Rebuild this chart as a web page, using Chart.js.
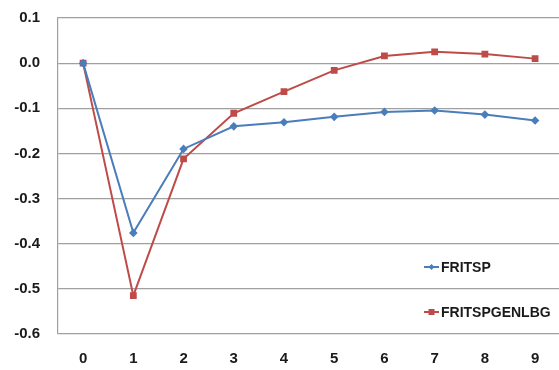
<!DOCTYPE html>
<html>
<head>
<meta charset="utf-8">
<script src="https://cdn.jsdelivr.net/npm/chart.js@4/dist/chart.umd.min.js"></script>
<style>
  html, body { margin: 0; padding: 0; background: #fff; overflow: hidden; }
  #wrap { width: 565px; height: 370px; }
</style>
</head>
<body>
<div id="wrap"><canvas id="chart"></canvas></div>
<script>
const categories = ['0', '1', '2', '3', '4', '5', '6', '7', '8', '9'];
const fritsp = [0.0, -0.376, -0.19, -0.14, -0.131, -0.119, -0.108, -0.105, -0.114, -0.127];
const fritspGenlbg = [0.0, -0.515, -0.212, -0.111, -0.063, -0.016, 0.016, 0.025, 0.02, 0.01];
const seriesNames = ['FRITSP', 'FRITSPGENLBG'];

const BLUE = '#4a7ebb';
const RED = '#be4b48';
const FONT = '"Liberation Sans", Arial, sans-serif';

// legend drawn inside the plot, lower right
const innerLegend = {
  id: 'innerLegend',
  afterDraw(chart) {
    const ctx = chart.ctx;
    const area = chart.chartArea;
    const rows = [area.bottom - 67, area.bottom - 22];
    const x0 = 424;
    ctx.save();
    chart.data.datasets.forEach((ds, i) => {
      const y = rows[i];
      ctx.strokeStyle = ds.borderColor;
      ctx.lineWidth = 2;
      ctx.beginPath();
      ctx.moveTo(x0, y);
      ctx.lineTo(x0 + 15, y);
      ctx.stroke();
      ctx.fillStyle = ds.backgroundColor;
      if (ds.pointStyle === 'rect') {
        ctx.fillRect(x0 + 4.5, y - 3, 6, 6);
      } else {
        ctx.beginPath();
        ctx.moveTo(x0 + 7.5, y - 3);
        ctx.lineTo(x0 + 10.5, y);
        ctx.lineTo(x0 + 7.5, y + 3);
        ctx.lineTo(x0 + 4.5, y);
        ctx.closePath();
        ctx.fill();
      }
      ctx.fillStyle = '#1a1a1a';
      ctx.font = 'bold 14px ' + FONT;
      ctx.textBaseline = 'middle';
      ctx.textAlign = 'left';
      ctx.fillText(ds.label, x0 + 17, y + 1);
    });
    ctx.restore();
  }
};

new Chart(document.getElementById('chart'), {
  type: 'line',
  data: {
    labels: categories,
    datasets: [
      {
        label: seriesNames[0],
        data: fritsp,
        borderColor: BLUE,
        backgroundColor: BLUE,
        borderWidth: 2,
        pointStyle: 'rectRot',
        pointRadius: 4.3,
        pointBorderWidth: 0,
        tension: 0
      },
      {
        label: seriesNames[1],
        data: fritspGenlbg,
        borderColor: RED,
        backgroundColor: RED,
        borderWidth: 2,
        pointStyle: 'rect',
        pointRadius: 4.8,
        pointBorderWidth: 0,
        tension: 0
      }
    ]
  },
  options: {
    responsive: true,
    maintainAspectRatio: false,
    animation: false,
    layout: { padding: { top: 18, right: 0, left: 0, bottom: 0 } },
    plugins: {
      legend: { display: false },
      tooltip: { enabled: false }
    },
    scales: {
      x: {
        offset: true,
        grid: { display: false, drawTicks: false },
        border: { display: false },
        ticks: {
          color: '#1a1a1a',
          font: { family: FONT, size: 15, weight: 'bold' },
          padding: 16
        },
        afterFit(scale) { scale.height = 36; }
      },
      y: {
        min: -0.6,
        max: 0.1,
        grid: { color: '#a0a0a0', lineWidth: 1.2, drawTicks: false },
        border: { display: true, color: '#a0a0a0', width: 1.2 },
        ticks: {
          stepSize: 0.1,
          color: '#1a1a1a',
          font: { family: FONT, size: 15, weight: 'bold' },
          padding: 18,
          callback: v => v.toFixed(1)
        },
        afterFit(scale) {
          scale.width = 58;
          scale.paddingTop = 0;
          scale.paddingBottom = 0;
        }
      }
    }
  },
  plugins: [innerLegend]
});
</script>
</body>
</html>
